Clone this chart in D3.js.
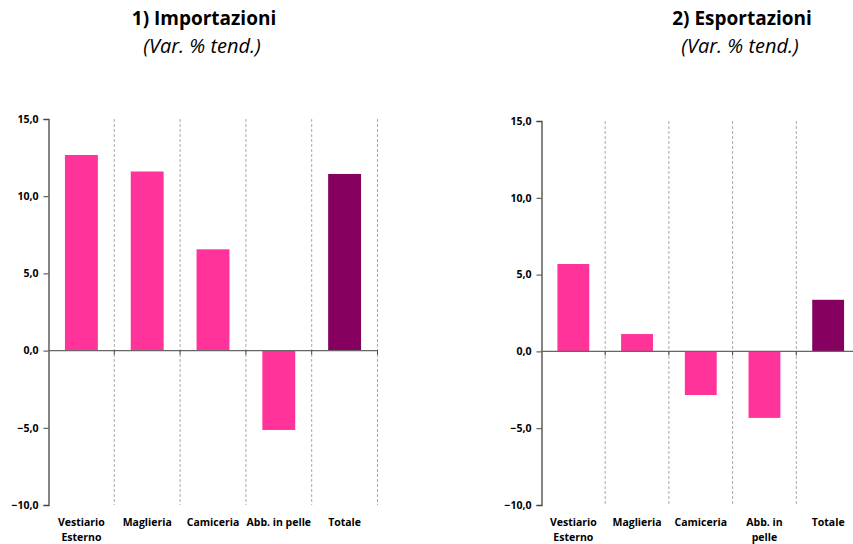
<!DOCTYPE html>
<html>
<head>
<meta charset="utf-8">
<script src="https://cdn.jsdelivr.net/npm/d3@7"></script>
<style>
  body { margin: 0; background: #fff; }
  svg { font-family: "Open Sans", "Noto Sans", sans-serif; }
</style>
</head>
<body>
<svg id="chart" width="853" height="544"></svg>
<script>
// categories and values (Var. % tend.)
const categories = ["Vestiario Esterno", "Maglieria", "Camiceria", "Abb. in pelle", "Totale"];
const importValues = [12.67, 11.6, 6.56, -5.14, 11.44];
const exportValues = [5.69, 1.13, -2.84, -4.33, 3.36];
const yTicks = [-10, -5, 0, 5, 10, 15];

// line breaks of the category labels, per panel
const importLabels = [["Vestiario", "Esterno"], ["Maglieria"], ["Camiceria"], ["Abb. in pelle"], ["Totale"]];
const exportLabels = [["Vestiario", "Esterno"], ["Maglieria"], ["Camiceria"], ["Abb. in", "pelle"], ["Totale"]];

const pink = "#ff3399";
const plum = "#85005f";

const svg = d3.select("#chart");

function drawPanel(opts) {
    const g = svg.append("g");

    const x = d3.scaleBand()
        .domain(categories)
        .range([opts.x0, opts.x1])
        .paddingInner(0.5)
        .paddingOuter(0.25);

    const y = d3.scaleLinear()
        .domain([-10, 15])
        .range([opts.yBottom, opts.yTop]);

    // title + subtitle
    g.append("text")
        .attr("x", opts.titleX)
        .attr("y", 25)
        .attr("text-anchor", "middle")
        .style("font-size", "19px")
        .style("font-weight", "bold")
        .text(opts.title);
    g.append("text")
        .attr("x", opts.titleX - 2)
        .attr("y", 53)
        .attr("text-anchor", "middle")
        .style("font-size", "20px")
        .style("font-style", "italic")
        .text("(Var. % tend.)");

    // dashed separators between categories
    const step = x.step();
    const seps = categories.map((c, i) => opts.x0 + step * (i + 1));
    g.selectAll(".sep")
        .data(seps)
        .enter().append("line")
        .attr("x1", d => d).attr("x2", d => d)
        .attr("y1", opts.yTop)
        .attr("y2", opts.yBottom)
        .attr("stroke", "#aaa")
        .attr("stroke-width", 1)
        .attr("stroke-dasharray", "3,2");

    // bars
    g.selectAll(".bar")
        .data(opts.values)
        .enter().append("rect")
        .attr("x", (d, i) => x(categories[i]))
        .attr("width", x.bandwidth())
        .attr("y", d => y(Math.max(0, d)))
        .attr("height", d => Math.abs(y(d) - y(0)))
        .attr("fill", (d, i) => i === categories.length - 1 ? plum : pink);

    // y axis
    const yAxis = d3.axisLeft(y)
        .tickValues(yTicks)
        .tickSize(5)
        .tickFormat(d => d3.format(".1f")(d).replace(".", ","));
    const ya = g.append("g")
        .attr("transform", `translate(${opts.x0},0)`)
        .call(yAxis);
    ya.select(".domain").attr("stroke", "#444").attr("stroke-width", 1.3);
    ya.selectAll(".tick line").attr("stroke", "#444");
    ya.selectAll(".tick text")
        .attr("x", -10)
        .style("font-size", "10.5px")
        .style("font-weight", "bold")
        .style("font-family", "Open Sans, sans-serif")
        .attr("fill", "#000");

    // zero line with tick marks at separators
    g.append("line")
        .attr("x1", opts.x0)
        .attr("x2", opts.zeroEnd)
        .attr("y1", y(0)).attr("y2", y(0))
        .attr("stroke", "#666")
        .attr("stroke-width", 1.3);
    g.selectAll(".xtick")
        .data(seps)
        .enter().append("line")
        .attr("x1", d => d).attr("x2", d => d)
        .attr("y1", y(0)).attr("y2", y(0) + 4)
        .attr("stroke", "#444");

    // category labels
    const lab = g.selectAll(".cat")
        .data(opts.labels)
        .enter().append("text")
        .attr("text-anchor", "middle")
        .attr("x", (d, i) => x(categories[i]) + x.bandwidth() / 2)
        .attr("y", opts.yBottom + 21)
        .style("font-size", "10.5px")
        .style("font-weight", "bold");
    lab.selectAll("tspan")
        .data(d => d)
        .enter().append("tspan")
        .attr("x", function () { return d3.select(this.parentNode).attr("x"); })
        .attr("dy", (d, i) => i === 0 ? 0 : 15)
        .text(d => d);
}

drawPanel({
    title: "1) Importazioni", titleX: 204,
    values: importValues, labels: importLabels,
    x0: 48.5, x1: 377.5, zeroEnd: 378,
    yTop: 119, yBottom: 505
});

drawPanel({
    title: "2) Esportazioni", titleX: 742,
    values: exportValues, labels: exportLabels,
    x0: 541.5, x1: 860, zeroEnd: 853,
    yTop: 121, yBottom: 505
});
</script>
</body>
</html>
